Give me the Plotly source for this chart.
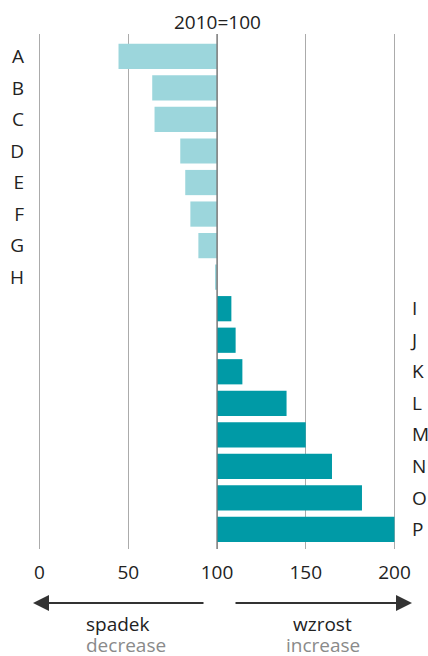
import plotly.graph_objects as go

# Data (2010 = 100)
dec_labels = ["A", "B", "C", "D", "E", "F", "G", "H"]
dec_values = [44.5, 63.5, 64.8, 79.3, 82.1, 85.0, 89.5, 99.1]
inc_labels = ["I", "J", "K", "L", "M", "N", "O", "P"]
inc_values = [108.1, 110.5, 114.3, 139.2, 150.0, 164.8, 181.7, 200.0]
x_ticks = [0, 50, 100, 150, 200]
base_value = 100
title_text = "2010=100"

all_labels = dec_labels + inc_labels
FONT = "Open Sans"
TXT = "#222222"
GREY = "#8a8a8a"
FS = 19

fig = go.Figure()
fig.add_trace(go.Bar(
    y=dec_labels, x=[v - base_value for v in dec_values], base=base_value,
    orientation="h", marker=dict(color="#9CD6DC", line=dict(width=0)),
    yaxis="y", showlegend=False,
))
fig.add_trace(go.Bar(
    y=inc_labels, x=[v - base_value for v in inc_values], base=base_value,
    orientation="h", marker=dict(color="#009AA6", line=dict(width=0)),
    yaxis="y2", showlegend=False,
))

yrange = [15.62, -0.71]
fig.update_layout(
    width=428, height=656,
    margin=dict(l=36, r=30, t=34, b=107, autoexpand=False),
    paper_bgcolor="white", plot_bgcolor="white",
    bargap=0.2,
    font=dict(family=FONT, size=FS, color=TXT),
    xaxis=dict(range=[-2, 202], tickvals=x_ticks, showgrid=True,
               gridcolor="#ababab", gridwidth=1, zeroline=False,
               showline=False, ticks="", ticklabelstandoff=10, automargin=False,
               tickfont=dict(size=FS, color=TXT)),
    yaxis=dict(type="category", categoryarray=all_labels, range=yrange,
               tickvals=dec_labels, showgrid=False, zeroline=False,
               showline=False, ticks="", ticklabelstandoff=11, automargin=False,
               tickfont=dict(size=FS, color=TXT)),
    yaxis2=dict(type="category", categoryarray=all_labels, range=yrange,
                overlaying="y", side="right", tickvals=inc_labels,
                showgrid=False, zeroline=False, showline=False, ticks="",
                ticklabelstandoff=13, automargin=False,
                tickfont=dict(size=FS, color=TXT)),
    shapes=[dict(type="line", xref="x", yref="paper", x0=base_value, x1=base_value,
                 y0=0, y1=1, line=dict(color="#7a7a7a", width=1.3), layer="above")],
)

def label(text, px, py, color):
    return dict(text=text, x=(px - 36) / 362, y=(549 - py) / 515,
                xref="paper", yref="paper", xanchor="center", yanchor="middle",
                showarrow=False, borderpad=0, font=dict(size=FS, color=color))

annots = [
    dict(text=title_text, x=base_value, xref="x", y=(549 - 22) / 515, yref="paper",
         xanchor="center", yanchor="middle", showarrow=False, borderpad=0,
         font=dict(size=FS, color=TXT)),
    # arrows
    dict(x=(33 - 36) / 362, y=(549 - 603) / 515, xref="paper", yref="paper", ax=172, ay=0,
         showarrow=True, arrowhead=2, arrowsize=1.6, arrowwidth=2,
         arrowcolor="#333333", text=""),
    dict(x=(412 - 36) / 362, y=(549 - 603) / 515, xref="paper", yref="paper", ax=-178, ay=0,
         showarrow=True, arrowhead=2, arrowsize=1.6, arrowwidth=2,
         arrowcolor="#333333", text=""),
    label("spadek", 118, 624, TXT),
    label("decrease", 126, 645, GREY),
    label("wzrost", 322, 624, TXT),
    label("increase", 323, 645, GREY),
]
fig.update_layout(annotations=annots)

fig.write_html("out.html", config={"displayModeBar": False},
               post_script="document.body.style.margin='0';document.body.style.padding='0';")
